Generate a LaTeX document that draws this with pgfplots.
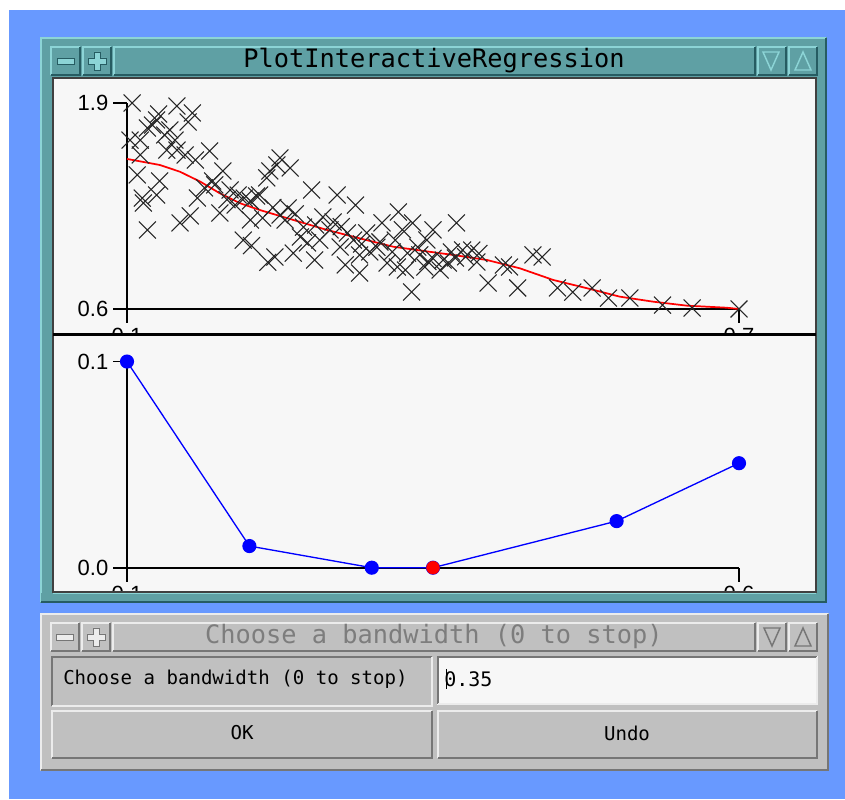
\documentclass[border=0pt]{standalone}
\usepackage{fontspec}
\setmainfont{Liberation Sans}
\newfontfamily\guifont{DejaVu Sans Mono}
\usepackage{pgfplots}
\pgfplotsset{compat=1.18}
\usepackage{pgfplotstable}

\definecolor{bgblue}{RGB}{104,153,255}
\definecolor{winteal}{RGB}{95,160,164}
\definecolor{tealL}{RGB}{140,212,214}
\definecolor{tealD}{RGB}{38,92,98}
\definecolor{panel}{RGB}{247,247,247}
\definecolor{dgray}{RGB}{192,192,192}
\definecolor{dgrayL}{RGB}{236,236,236}
\definecolor{dgrayD}{RGB}{118,118,118}
\definecolor{dtext}{RGB}{125,125,125}

% raised / sunken boxes in pixel coordinates (y downward)
\newcommand{\bevel}[7]{%
  \fill[#5] (#1,#2) rectangle (#3,#4);
  \draw[#6,line width=1.4pt] (#1+1,#4-1) -- (#1+1,#2+1) -- (#3-1,#2+1);
  \draw[#7,line width=1.4pt] (#1+1,#4-1) -- (#3-1,#4-1) -- (#3-1,#2+1);
}

\pgfplotstableread{
x y
0.105 1.900
0.149 1.881
0.164 1.837
0.129 1.793
0.120 1.742
0.125 1.761
0.103 1.666
0.139 1.603
0.149 1.603
0.113 1.666
0.157 1.572
0.181 1.597
0.110 1.446
0.132 1.408
0.116 1.269
0.120 1.099
0.152 1.143
0.162 1.187
0.169 1.300
0.176 1.364
0.184 1.408
0.194 1.471
0.201 1.351
0.209 1.319
0.221 1.282
0.227 1.313
0.247 1.509
0.250 1.553
0.237 1.427
0.240 1.471
0.214 1.035
0.250 1.193
0.191 1.206
0.221 1.162
0.233 1.174
0.129 1.319
0.115 1.300
0.137 1.698
0.113 1.572
0.260 1.490
0.281 1.351
0.306 1.319
0.324 1.256
0.366 1.212
0.380 1.143
0.350 1.143
0.400 1.099
0.258 1.237
0.273 1.117
0.292 1.181
0.302 1.149
0.289 1.035
0.263 0.953
0.245 0.928
0.309 0.991
0.322 1.035
0.328 0.827
0.338 0.960
0.355 0.890
0.365 0.865
0.375 0.953
0.392 0.865
0.407 0.846
0.379 0.707
0.394 1.035
0.410 0.909
0.277 1.017
0.270 1.054
0.316 1.080
0.335 1.080
0.348 1.023
0.423 1.143
0.429 0.972
0.438 0.972
0.415 0.890
0.443 0.897
0.454 0.764
0.469 0.878
0.475 0.865
0.483 0.733
0.498 0.941
0.507 0.928
0.522 0.733
0.537 0.707
0.556 0.733
0.572 0.669
0.593 0.669
0.625 0.625
0.654 0.606
0.700 0.600
0.363 1.035
0.387 0.941
0.422 0.922
0.328 0.941
0.299 1.099
0.186 1.383
0.206 1.256
0.167 1.540
0.230 1.319
0.255 1.162
0.284 0.909
0.314 0.878
0.373 0.846
0.222 1.000
0.238 0.895
0.147 1.666
0.142 1.730
0.131 1.830
0.160 1.780
0.198 1.290
0.215 1.300
0.243 1.240
0.265 1.200
0.285 1.130
0.310 1.120
0.330 1.010
0.345 0.990
0.360 0.960
0.385 0.990
0.400 0.920
0.418 0.960
0.432 0.930
0.445 0.950
0.395 0.900
0.370 1.100
}\scatterdata

\pgfplotstableread{
x y
0.100 1.547
0.132 1.509
0.152 1.466
0.172 1.403
0.191 1.330
0.211 1.267
0.230 1.225
0.263 1.162
0.296 1.099
0.328 1.046
0.361 0.993
0.407 0.952
0.420 0.941
0.453 0.909
0.485 0.857
0.518 0.783
0.551 0.731
0.583 0.678
0.616 0.646
0.649 0.621
0.688 0.608
0.700 0.600
}\smoothdata

\pgfplotstableread{
bw cv
0.10 0.1000
0.20 0.0105
0.30 0.0000
0.35 0.0000
0.50 0.0226
0.60 0.0507
}\cvdata

\begin{document}
\begin{tikzpicture}[x=0.75pt,y=0.75pt]
\useasboundingbox (0,0) rectangle (845,799);
% ---------- window decorations (pixel coords, y down) ----------
\begin{scope}[shift={(0,799)}, y=-0.75pt]
  \fill[white] (0,0) rectangle (845,799);
  \fill[bgblue] (9,10) rectangle (845,799);
  % main window frame
  \bevel{40}{37}{827}{603}{winteal}{tealL}{tealD}
  \bevel{50}{46}{81}{76}{winteal}{tealL}{tealD}
  \bevel{82}{46}{112}{76}{winteal}{tealL}{tealD}
  \bevel{113}{46}{756}{76}{winteal}{tealL}{tealD}
  \bevel{757}{46}{787}{76}{winteal}{tealL}{tealD}
  \bevel{788}{46}{818}{76}{winteal}{tealL}{tealD}
  \filldraw[fill=tealL, draw=tealD, line width=0.6pt] (57,58) rectangle (74,64);
  \filldraw[fill=tealL, draw=tealD, line width=0.6pt]
    (94,52)--(100,52)--(100,58)--(106,58)--(106,64)--(100,64)--(100,70)--(94,70)--(94,64)--(88,64)--(88,58)--(94,58)--cycle;
  \draw[tealL, line width=1.1pt] (763,52)--(779,52)--(771,70)--cycle;
  \draw[tealL, line width=1.1pt] (803,52)--(811,70)--(795,70)--cycle;
  \node[font=\guifont\fontsize{19}{19}\selectfont, black] at (434,61) {PlotInteractiveRegression};
  % plot panel
  \fill[panel] (53,78) rectangle (816,592);
  \draw[black!75, line width=1pt] (53,78) rectangle (816,592);
\end{scope}

% ---------- upper panel: data and smoother ----------
\begin{axis}[
  at={(95.25pt,367.5pt)}, anchor=south west,
  scale only axis, width=459pt, height=154.5pt,
  xmin=0.1, xmax=0.7, ymin=0.6, ymax=1.9,
  axis lines=left, axis line style={-, line width=1.3pt, black},
  xtick={0.1,0.7}, ytick={0.6,1.9},
  tick align=outside, major tick length=10.5pt,
  tick style={line width=1.3pt, black},
  clip=false,
  /pgf/number format/assume math mode=true,
  tick label style={font=\fontsize{16.5}{16.5}\selectfont},
  yticklabel style={/pgf/number format/.cd, fixed, fixed zerofill, precision=1},
  xticklabel style={/pgf/number format/.cd, fixed, fixed zerofill, precision=1},
]
\addplot[only marks, mark=x, mark size=9pt, mark options={line width=0.8pt, draw=black!85}] table[x=x,y=y] {\scatterdata};
\addplot[red, line width=1.3pt, no marks] table[x=x,y=y] {\smoothdata};
\end{axis}

\begin{scope}[shift={(0,799)}, y=-0.75pt]
  \fill[panel] (54,336) rectangle (815,591);
  \draw[black, line width=2.2pt] (53,334.5) -- (816,334.5);
\end{scope}

% ---------- lower panel: cross-validation score ----------
\begin{axis}[
  at={(95.25pt,173.475pt)}, anchor=south west,
  scale only axis, width=459pt, height=154.6pt,
  xmin=0.1, xmax=0.6, ymin=0, ymax=0.1,
  axis lines=left, axis line style={-, line width=1.3pt, black},
  xtick={0.1,0.6}, ytick={0,0.1},
  tick align=outside, major tick length=10.5pt,
  tick style={line width=1.3pt, black},
  clip=false,
  /pgf/number format/assume math mode=true,
  tick label style={font=\fontsize{16.5}{16.5}\selectfont},
  yticklabel style={/pgf/number format/.cd, fixed, fixed zerofill, precision=1},
  xticklabel style={/pgf/number format/.cd, fixed, fixed zerofill, precision=1},
]
\addplot[blue, line width=1pt, mark=*, mark size=4.8pt, mark options={fill=blue, draw=blue}] table[x=bw,y=cv] {\cvdata};
\addplot[only marks, mark=*, mark size=4.8pt, mark options={fill=red, draw=red}] coordinates {(0.35,0)};
\end{axis}

% ---------- bottom of window frame and dialog ----------
\begin{scope}[shift={(0,799)}, y=-0.75pt]
  \fill[winteal] (41,593) rectangle (826,602);
  \draw[tealD, line width=1.4pt] (41,602) -- (826,602) -- (826,38);
  \draw[tealL, line width=1pt] (53,593) -- (816,593);
  \draw[black!75, line width=1pt] (53,592) -- (816,592);
  % dialog
  \bevel{40}{613}{829}{771}{dgray}{dgrayL}{dgrayD}
  \bevel{50}{622}{80}{652}{dgray}{dgrayL}{dgrayD}
  \bevel{81}{622}{111}{652}{dgray}{dgrayL}{dgrayD}
  \bevel{112}{622}{756}{652}{dgray}{dgrayL}{dgrayD}
  \bevel{757}{622}{787}{652}{dgray}{dgrayL}{dgrayD}
  \bevel{788}{622}{818}{652}{dgray}{dgrayL}{dgrayD}
  \filldraw[fill=dgrayL, draw=dgrayD, line width=0.6pt] (56,634) rectangle (73,640);
  \filldraw[fill=dgrayL, draw=dgrayD, line width=0.6pt]
    (93,628)--(99,628)--(99,634)--(105,634)--(105,640)--(99,640)--(99,646)--(93,646)--(93,640)--(87,640)--(87,634)--(93,634)--cycle;
  \draw[dgrayD, line width=1.1pt] (764,628)--(780,628)--(772,646)--cycle;
  \draw[dgrayD, line width=1.1pt] (803,628)--(811,646)--(795,646)--cycle;
  \node[font=\guifont\fontsize{19}{19}\selectfont, text=dtext] at (434,637) {Choose a bandwidth (0 to stop)};
  % label box (sunken)
  \bevel{51}{656}{433}{707}{dgray}{dgrayD}{dgrayL}
  \node[font=\guifont\fontsize{14.3}{14.3}\selectfont, anchor=west, inner sep=0pt] at (63,679) {Choose a bandwidth (0 to stop)};
  % input field
  \bevel{437}{656}{818}{705}{panel}{dgrayD}{dgrayL}
  \node[font=\guifont\fontsize{15}{15}\selectfont, anchor=west, inner sep=0pt] at (444,679) {0.35};
  \draw[black, line width=0.6pt] (446,669) -- (446,689);
  % buttons
  \bevel{51}{710}{433}{759}{dgray}{dgrayL}{dgrayD}
  \bevel{437}{710}{818}{759}{dgray}{dgrayL}{dgrayD}
  \node[font=\guifont\fontsize{14.3}{14.3}\selectfont] at (242,733) {OK};
  \node[font=\guifont\fontsize{14.3}{14.3}\selectfont] at (627,733) {Undo};
\end{scope}
\end{tikzpicture}
\end{document}
